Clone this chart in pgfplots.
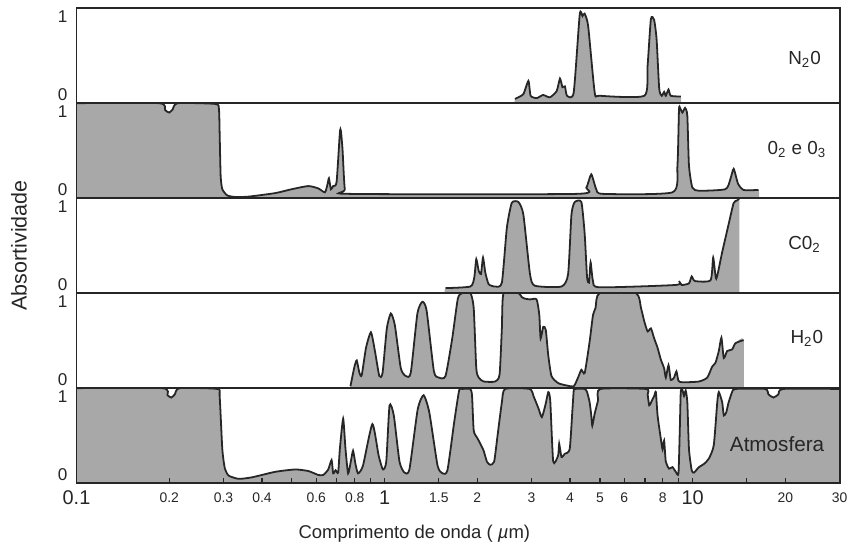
\documentclass[border=0pt]{standalone}
\usepackage{fontspec}
\setmainfont{Liberation Sans}
\usepackage{pgfplots}
\usepackage{pgfplotstable}
\pgfplotsset{compat=1.18}
\usepgfplotslibrary{groupplots}
\usetikzlibrary{calc}
\definecolor{gfill}{HTML}{A8A8A8}
\definecolor{gline}{HTML}{262626}

% absorption curves; first/last rows close the fill below the panel
\pgfplotstableread{
x y
2.65 -0.2
2.65 -0.05
2.82 0.01
2.93 0.18
2.98 -0.01
3.12 -0.04
3.27 0.00
3.44 -0.03
3.62 0.05
3.71 0.21
3.78 0.10
3.85 0.11
3.91 -0.01
4.11 0.03
4.30 1.03
4.39 1.01
4.46 1.04
4.58 0.88
4.81 0.03
4.99 -0.01
6.97 -0.01
7.14 0.37
7.32 0.97
7.50 0.96
7.64 0.71
7.79 0.08
7.94 -0.01
8.08 0.04
8.18 -0.01
8.35 0.07
8.49 -0.01
9.15 -0.02
9.15 -0.2
}\tabNO

\pgfplotstableread{
x y
0.1 -0.2
0.1 1.11
0.1856 1.11
0.1941 1.02
0.2000 0.99
0.2051 1.03
0.2130 1.11
0.2829 1.10
0.2900 1.03
0.2915 0.73
0.2937 0.18
0.2974 0.01
0.3087 -0.07
0.3281 -0.09
0.3622 -0.085
0.4418 -0.04
0.5 0.01
0.5656 0.05
0.6092 0.02
0.6404 -0.03
0.6534 0.08
0.6597 0.15
0.6696 0.01
0.6811 0.05
0.6986 0.10
0.7159 0.73
0.7213 0.76
0.7304 0.52
0.7430 0.01
0.7711 -0.05
4.194 -0.05
4.517 0.03
4.688 0.20
4.865 0.01
5.113 -0.05
8.60 -0.03
8.925 0.31
9.03 1.03
9.10 1.05
9.26 0.99
9.45 1.05
9.61 0.95
9.73 0.31
9.98 0.03
10.48 -0.01
12.78 0.01
13.26 0.14
13.59 0.27
14.04 0.08
14.64 0.0
16.36 0.0
16.36 -0.2
}\tabOO

\pgfplotstableread{
x y
1.577 -0.2
1.577 -0.04
1.899 -0.02
1.956 0.10
1.985 0.33
2.021 0.18
2.056 0.14
2.087 0.35
2.123 0.16
2.177 0.01
2.286 -0.02
2.403 0.03
2.494 0.73
2.588 1.05
2.720 1.06
2.822 0.90
2.965 0.14
3.076 -0.01
3.752 -0.02
3.943 0.14
4.042 0.90
4.142 1.06
4.353 1.06
4.463 0.65
4.542 0.10
4.609 0.03
4.664 0.29
4.748 0.05
4.987 -0.03
8.815 0.0
9.03 0.05
9.21 0.0
9.73 0.02
9.93 0.11
10.17 0.05
11.43 0.06
11.66 0.35
11.93 0.08
12.47 0.42
13.09 0.78
13.59 1.05
13.94 1.08
14.18 1.11
14.18 -0.2
}\tabCO

\pgfplotstableread{
x y
0.775 -0.2
0.775 -0.08
0.7985 0.17
0.8123 0.25
0.8287 0.09
0.843 0.06
0.8703 0.41
0.903 0.61
0.9305 0.37
0.9614 0.05
0.985 0.09
1.017 0.66
1.048 0.85
1.080 0.70
1.129 0.15
1.172 0.05
1.216 0.09
1.278 0.85
1.326 1.00
1.369 0.89
1.446 0.11
1.501 0.03
1.577 0.05
1.658 0.53
1.729 1.04
1.785 1.11
1.899 1.11
1.947 0.92
1.985 0.15
2.021 0.03
2.097 -0.02
2.286 -0.02
2.362 0.07
2.403 0.66
2.434 1.11
2.720 1.11
2.788 1.06
2.856 1.04
2.965 1.03
3.115 1.03
3.179 0.83
3.210 0.53
3.274 0.68
3.337 0.64
3.398 0.32
3.482 0.05
3.660 -0.04
3.893 -0.07
4.111 -0.08
4.246 0.03
4.353 0.13
4.463 0.09
4.630 0.49
4.748 0.83
4.840 0.92
4.987 1.11
6.548 1.11
6.797 0.92
6.966 0.75
7.144 0.62
7.321 0.66
7.504 0.53
7.695 0.41
7.886 0.26
8.080 0.15
8.183 0.03
8.349 0.19
8.492 0.00
8.704 0.03
8.860 0.11
8.994 -0.01
9.265 -0.03
10.48 -0.02
11.15 0.03
11.57 0.17
11.86 0.22
12.16 0.37
12.40 0.54
12.62 0.28
12.94 0.37
13.43 0.39
13.77 0.47
14.64 0.51
14.64 -0.2
}\tabHO

\pgfplotstableread{
x y
0.1 -0.2
0.1 1.11
0.1900 1.11
0.1975 1.02
0.2030 0.99
0.2085 1.03
0.2160 1.11
0.2865 1.10
0.2915 1.01
0.2974 0.33
0.3032 0.08
0.3123 -0.01
0.3364 -0.05
0.3715 -0.03
0.4418 0.04
0.5125 0.07
0.5656 0.05
0.6092 0.00
0.6324 0.00
0.6563 0.07
0.6730 0.19
0.6811 0.02
0.6934 0.06
0.7069 0.03
0.7159 0.33
0.7338 0.72
0.7469 0.33
0.7615 0.02
0.7769 0.17
0.7902 0.31
0.8045 0.14
0.8202 0.02
0.8511 0.12
0.9128 0.65
0.9564 0.25
0.9875 0.07
1.0127 0.17
1.0378 0.89
1.0715 0.76
1.118 0.17
1.160 0.03
1.204 0.07
1.281 0.84
1.339 1.02
1.397 0.80
1.486 0.12
1.542 0.02
1.600 0.06
1.682 0.67
1.746 1.08
1.789 1.10
1.899 1.10
1.923 1.01
1.947 0.57
1.995 0.48
2.021 0.44
2.045 0.40
2.097 0.31
2.149 0.17
2.202 0.13
2.268 0.17
2.326 0.50
2.403 0.93
2.462 1.10
2.958 1.10
3.05 1.00
3.16 0.85
3.24 0.74
3.33 0.90
3.40 1.06
3.45 0.95
3.528 0.17
3.660 0.25
3.688 0.40
3.752 0.23
3.845 0.27
3.990 0.33
4.071 0.83
4.111 1.08
4.142 1.10
4.463 1.10
4.542 1.06
4.630 0.93
4.688 0.76
4.723 0.63
4.806 0.78
4.928 0.95
5.012 1.10
7.055 1.10
7.144 1.03
7.228 0.89
7.374 0.95
7.504 1.01
7.597 1.06
7.695 0.76
7.886 0.46
7.985 0.33
8.080 0.44
8.183 0.17
8.385 0.08
8.60 0.10
8.815 0.04
8.994 0.02
9.08 0.55
9.15 1.06
9.26 1.09
9.374 1.01
9.493 1.08
9.61 0.93
9.73 0.33
9.93 0.06
10.10 0.03
10.48 0.10
10.88 0.14
11.29 0.21
11.71 0.38
12.02 0.93
12.16 1.06
12.47 0.93
12.62 0.76
12.85 0.80
13.09 0.93
13.43 1.06
13.77 1.10
17.20 1.10
17.63 1.03
18.29 0.99
18.98 1.03
19.70 1.10
30 1.10
30 -0.2
}\tabAT

\newcommand{\B}[1]{{\fontsize{10}{11}\selectfont #1}}
\newcommand{\Sm}[1]{{\fontsize{7}{8}\selectfont #1}}

\pgfplotsset{
  fillplot/.style={fill=gfill, draw=none, smooth, tension=0.35},
  lineplot/.style={gline, line width=0.9pt, smooth, tension=0.35, restrict y to domain=-0.15:2},
}
\tikzset{lbl/.style={font=\fontsize{9.5}{10}\selectfont, text=gline}}

\begin{document}
\begin{tikzpicture}
\begin{groupplot}[
  group style={group name=G, group size=1 by 5, vertical sep=0pt, xticklabels at=edge bottom},
  scale only axis, width=384pt, height=47.8pt,
  xmode=log, xmin=0.1, xmax=30, ymin=-0.102, ymax=1.113,
  ytick={0,1}, yticklabels={0,1},
  yticklabel style={font=\fontsize{8.6}{9}\selectfont, text=gline, anchor=center, xshift=-7pt},
  ytick style={draw=none},
  xtick={0.1,0.2,0.3,0.4,0.5,0.6,0.7,0.8,0.9,1,1.5,2,3,4,5,6,7,8,9,10,15,20,30},
  xticklabels={\B{0.1},\Sm{0.2},\Sm{0.3},\Sm{0.4},{},\Sm{0.6},{},\Sm{0.8},{},\B{1},\Sm{1.5},\Sm{2},\Sm{3},\Sm{4},\Sm{5},\Sm{6},{},\Sm{8},{},\B{10},{},\Sm{20},\Sm{30}},
  xticklabel style={text=gline, anchor=center, yshift=-7.5pt},
  xtick style={draw=none},
  minor x tick style={draw=none},
  axis line style={gline, line width=1pt},
  axis on top,
]
\nextgroupplot
\addplot[fillplot] table {\tabNO};
\addplot[lineplot] table {\tabNO};
\node[lbl] at (rel axis cs:0.954,0.46) {N\textsubscript{2}0};

\nextgroupplot
\addplot[fillplot] table {\tabOO};
\addplot[lineplot] table {\tabOO};
\node[lbl] at (rel axis cs:0.944,0.51) {0\textsubscript{2} e 0\textsubscript{3}};

\nextgroupplot
\addplot[fillplot] table {\tabCO};
\addplot[lineplot] table {\tabCO};
\node[lbl] at (rel axis cs:0.954,0.51) {C0\textsubscript{2}};

\nextgroupplot
\addplot[fillplot] table {\tabHO};
\addplot[lineplot] table {\tabHO};
\node[lbl] at (rel axis cs:0.957,0.52) {H\textsubscript{2}0};

\nextgroupplot[xtick style={draw=gline, line width=0.6pt}, xtick pos=bottom, tick align=inside, major tick length=2.5pt]
\addplot[fillplot] table {\tabAT};
\addplot[lineplot] table {\tabAT};
\node[font=\fontsize{10.4}{11}\selectfont, text=gline] at (rel axis cs:0.918,0.41) {Atmosfera};
\end{groupplot}
\node[rotate=90, font=\fontsize{10.8}{12}\selectfont, text=gline] at ($(G c1r3.west)+(-29pt,0)$) {Absortividade};
\node[font=\fontsize{9.3}{11}\selectfont, text=gline] at ($(G c1r5.south west)+(170pt,-25.5pt)$) {Comprimento de onda ( \textit{µ}m)};
\path[use as bounding box] ($(G c1r5.south west)+(-38.5pt,-30.5pt)$) rectangle ($(G c1r1.north east)+(4.5pt,4pt)$);
\end{tikzpicture}
\end{document}
